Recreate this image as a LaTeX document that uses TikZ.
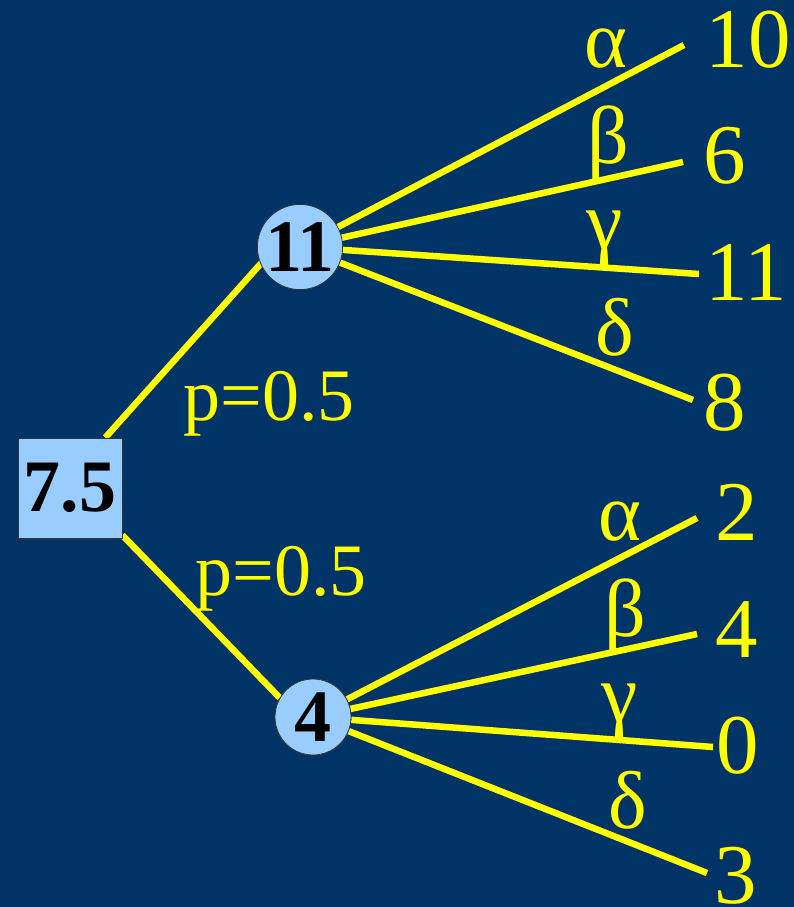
\documentclass[tikz,border=0pt]{standalone}
\usepackage{fontspec}
\setmainfont{Liberation Serif}
\definecolor{bg}{RGB}{0,51,102}
\definecolor{yel}{RGB}{255,255,0}
\definecolor{lblue}{RGB}{153,204,255}
\begin{document}
\begin{tikzpicture}[x=1pt,y=-1pt,
  edge/.style={draw=yel,line width=6.5pt},
  leaf/.style={text=yel,anchor=base,inner sep=0pt,font=\fontsize{85}{85}\selectfont},
  greek/.style={text=yel,anchor=base,inner sep=0pt,font=\fontsize{82}{82}\selectfont},
  plabel/.style={text=yel,anchor=base,inner sep=0pt,font=\fontsize{74}{74}\selectfont},
  decision/.style={draw=black!80,line width=0.8pt,fill=lblue,minimum width=104pt,minimum height=100pt,inner sep=0pt,font=\bfseries\fontsize{74}{74}\selectfont},
  chance/.style={circle,draw=black!80,line width=0.8pt,fill=lblue,minimum size=76pt,inner sep=0pt,font=\bfseries\fontsize{74}{74}\selectfont}]
\fill[bg] (0,0) rectangle (794,907);
\useasboundingbox (0,0) rectangle (794,907);
% leaf end points
\coordinate (a1) at (684,45);
\coordinate (b1) at (683,162);
\coordinate (g1) at (699,274);
\coordinate (d1) at (693,400);
\coordinate (a2) at (697,518);
\coordinate (b2) at (697,634);
\coordinate (g2) at (713,747);
\coordinate (d2) at (707,873);
% nodes
\node[decision] (sq) at (70,488) {};
\node[chance] (c11) at (300,247) {};
\node[chance] (c4) at (313,717) {};
% edges
\draw[edge] (sq.55) -- (c11.200);
\draw[edge] (sq.-42) -- (c4.150);
\foreach \e in {a1,b1,g1,d1} \draw[edge] (c11) -- (\e);
\foreach \e in {a2,b2,g2,d2} \draw[edge] (c4) -- (\e);
% redraw nodes on top
\node[decision] (sqt) at (70,488) {7.5};
\node[chance] (c11t) at (300,247) {11};
\node[chance] (c4t) at (313,717) {4};
% leaf values
\node[leaf] (v10) at (748,67) {10};
\node[leaf] (v6) at (725,183) {6};
\node[leaf] (v11) at (746,300) {11};
\node[leaf] (v8) at (725,430) {8};
\node[leaf] (v2) at (737,540) {2};
\node[leaf] (v4) at (737,657) {4};
\node[leaf] (v0) at (738,773) {0};
\node[leaf] (v3) at (736,903) {3};
% greek labels
\node[greek] (la1) at (606,67) {α};
\node[greek] (lb1) at (608,163) {β};
\node[greek] (lg1) at (605,248) {γ};
\node[greek] (ld1) at (615,355) {δ};
\node[greek] (la2) at (620,540) {α};
\node[greek] (lb2) at (625,636) {β};
\node[greek] (lg2) at (620,721) {γ};
\node[greek] (ld2) at (628,828) {δ};
% probabilities
\node[plabel] (p1) at (269,420) {p=0.5};
\node[plabel] (p2) at (281,595) {p=0.5};
\end{tikzpicture}
\end{document}
